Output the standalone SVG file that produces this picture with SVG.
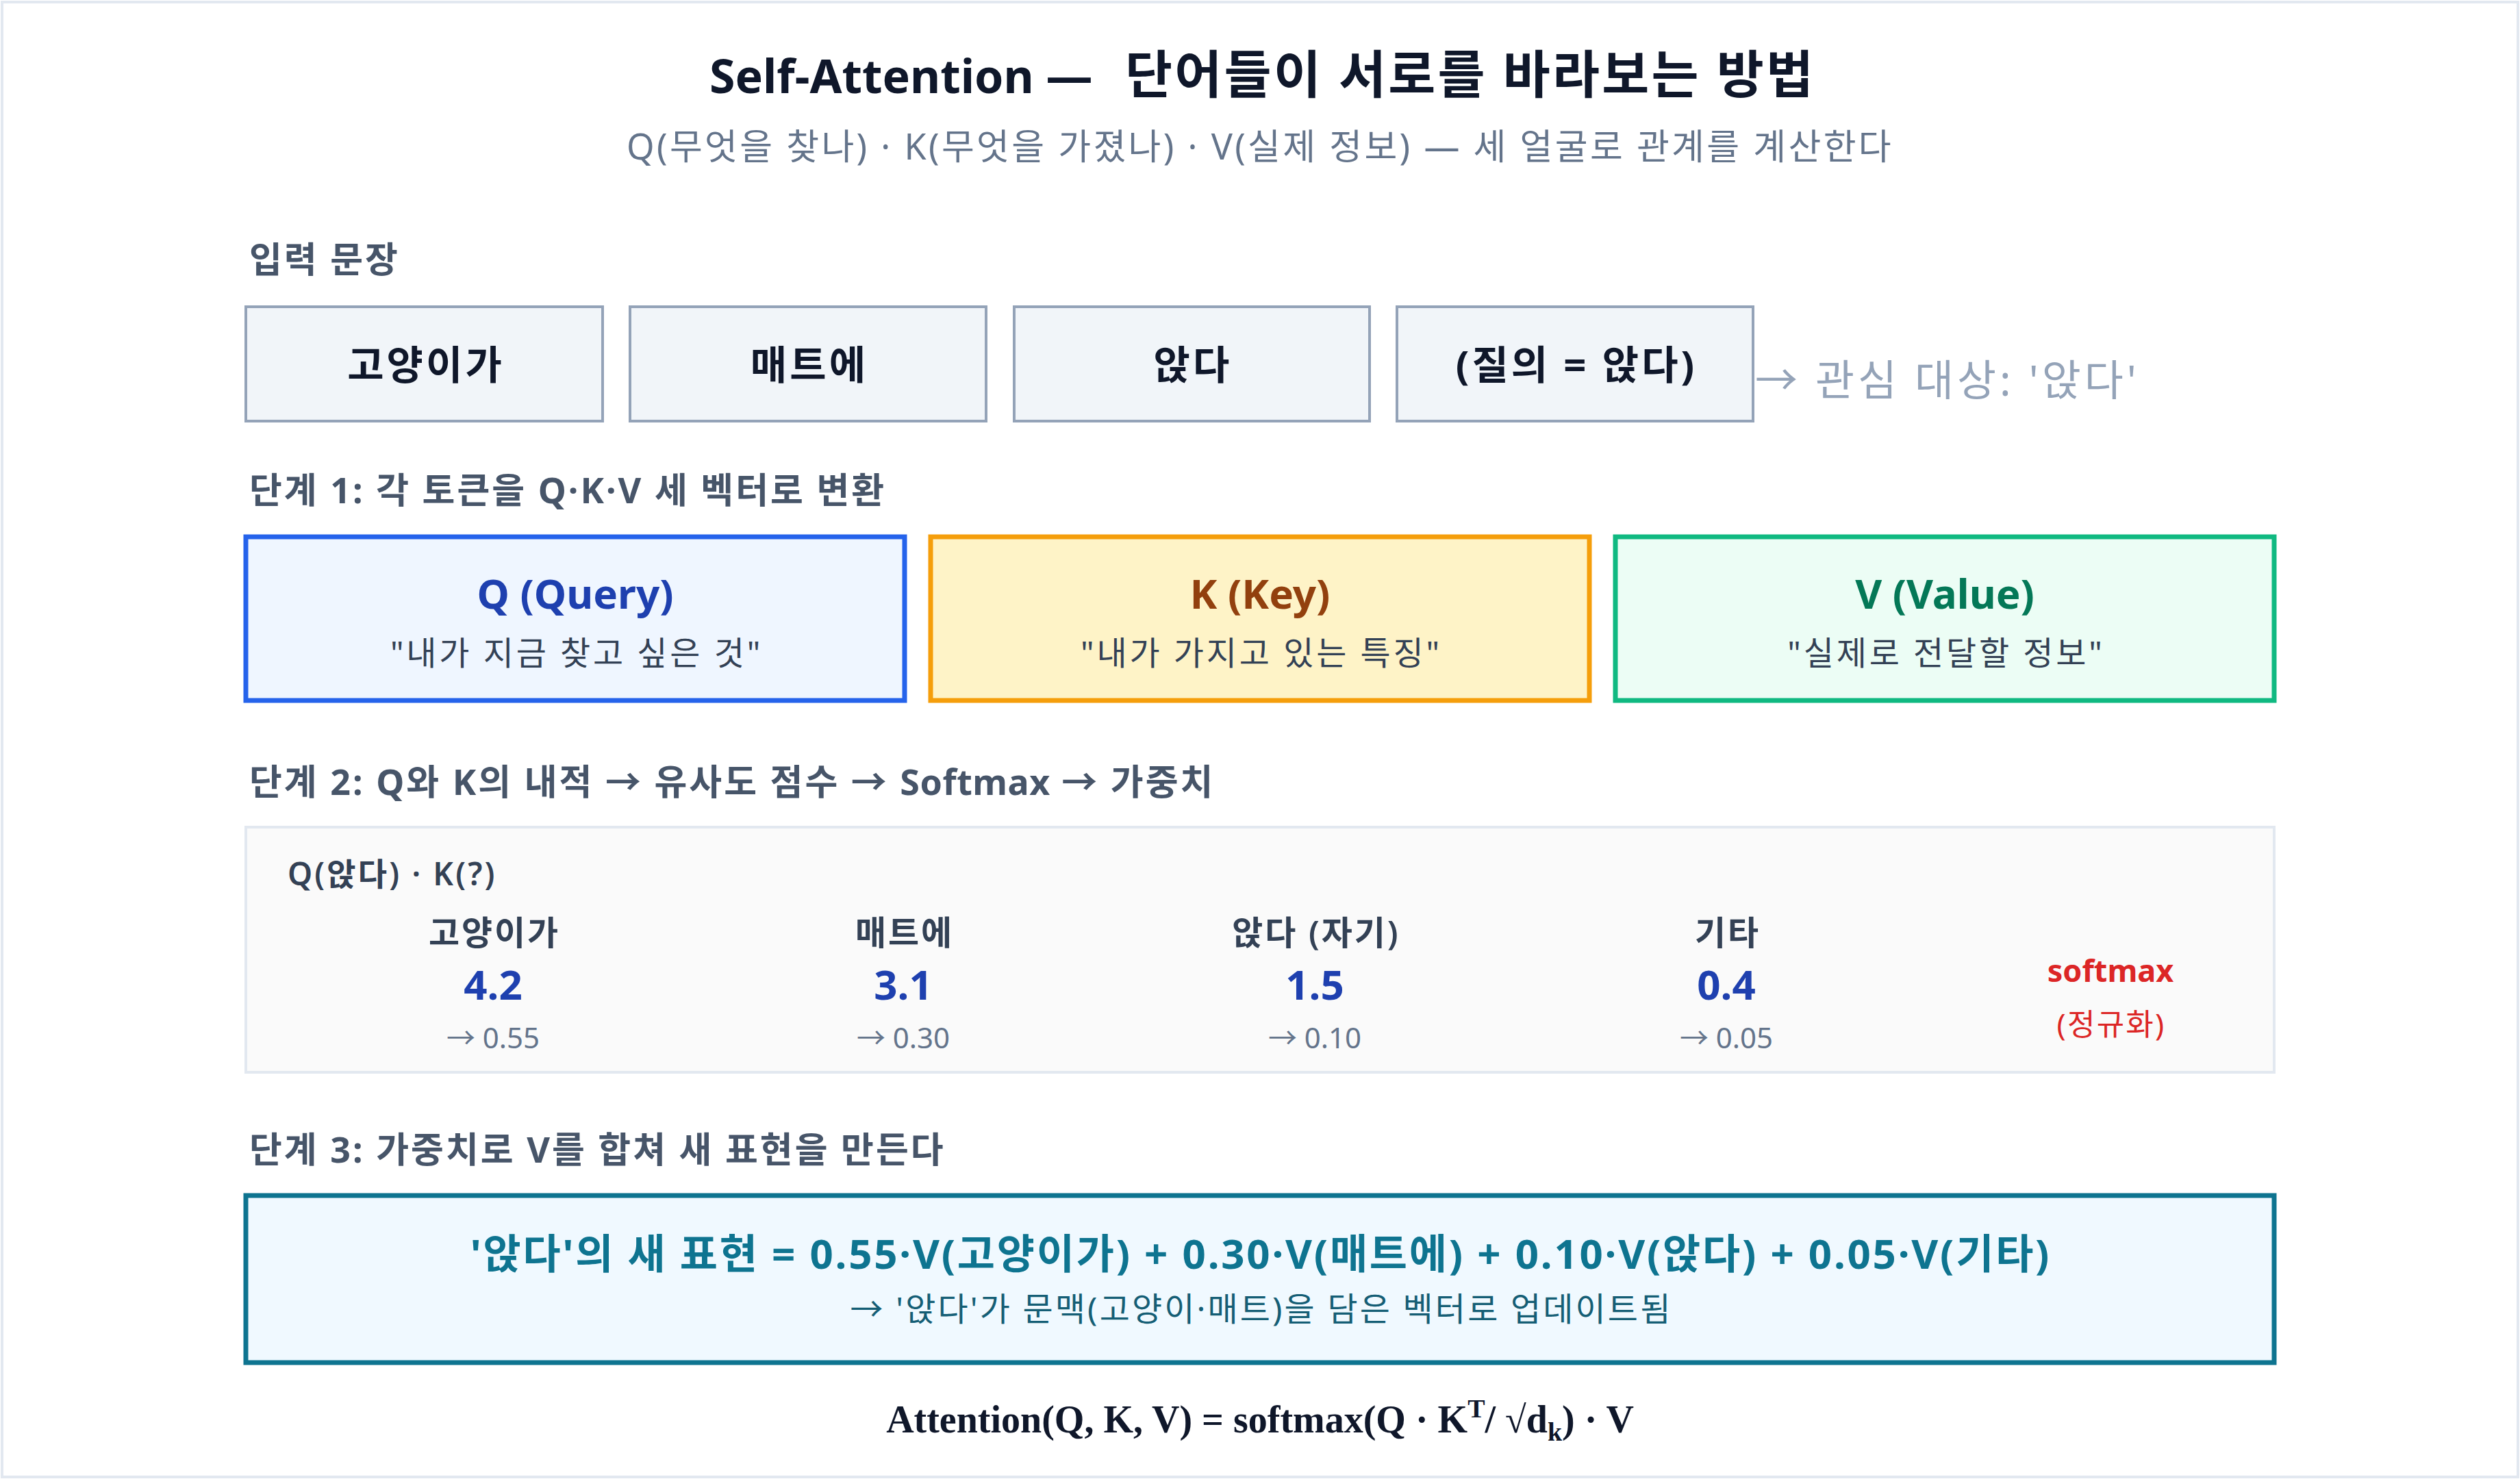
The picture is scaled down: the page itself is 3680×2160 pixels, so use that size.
<svg xmlns="http://www.w3.org/2000/svg" width="3680" height="2160" viewBox="0 0 3680 2160">
<style>
text{font-family:"Noto Sans","Noto Sans CJK KR",sans-serif}
.title{font-weight:700;fill:#0f172a}
.sub{font-size:52px;fill:#64748b;letter-spacing:0.064em}
.h{font-size:52px;font-weight:700;fill:#475569;letter-spacing:0.058em}
.tok rect{fill:#f1f5f9;stroke:#94a3b8;stroke-width:4}
.tok text{font-size:58px;font-weight:700;fill:#0f172a;text-anchor:middle;letter-spacing:0.07em}
.vt{font-size:60px;font-weight:700;text-anchor:middle}
.vd{font-size:48px;fill:#334155;text-anchor:middle;letter-spacing:0.08em}
.lbl{font-size:49px;font-weight:600;fill:#334155;text-anchor:middle;letter-spacing:0.06em}
.val{font-size:60px;font-weight:700;fill:#1e40af;text-anchor:middle}
.pr{font-size:42px;fill:#64748b;text-anchor:middle}
.formula{font-family:"Liberation Serif","Times New Roman",serif;font-size:56px;font-weight:700;fill:#0f172a;text-anchor:middle}
</style>
<rect x="0" y="0" width="3680" height="2160" fill="#ffffff"/>
<rect x="3" y="3" width="3674" height="2154" fill="none" stroke="#e2e8f0" stroke-width="4"/>

<g id="header">
<text class="title" x="1036" y="136"><tspan font-size="68">Self-Attention —</tspan><tspan x="1643" font-size="75" letter-spacing="0.044em">단어들이 서로를 바라보는 방법</tspan></text>
<text class="sub" x="1840" y="233" text-anchor="middle">Q(무엇을 찾나) · K(무엇을 가졌나) · V(실제 정보) — 세 얼굴로 관계를 계산한다</text>
</g>

<g id="input-label"><text class="h" x="364" y="398">입력 문장</text></g>

<g id="tok1" class="tok"><rect x="359" y="448" width="521" height="167"/><text x="622" y="554">고양이가</text></g>
<g id="tok2" class="tok"><rect x="920" y="448" width="520" height="167"/><text x="1182" y="554">매트에</text></g>
<g id="tok3" class="tok"><rect x="1481" y="448" width="519" height="167"/><text x="1742" y="554">앉다</text></g>
<g id="tok4" class="tok"><rect x="2040" y="448" width="520" height="167"/><text x="2302" y="554">(질의 = 앉다)</text></g>
<g id="focus-note"><text x="2563" y="578" font-size="62" fill="#94a3b8" letter-spacing="0.08em">→ 관심 대상: '앉다'</text></g>

<g id="step1-label"><text class="h" x="364" y="735">단계 1: 각 토큰을 Q·K·V 세 벡터로 변환</text></g>

<g id="q-box"><rect x="359" y="784" width="962" height="239" fill="#eff6ff" stroke="#2563eb" stroke-width="7"/>
<text class="vt" x="840" y="889" fill="#1e40af">Q (Query)</text>
<text class="vd" x="842" y="971">"내가 지금 찾고 싶은 것"</text></g>
<g id="k-box"><rect x="1359" y="784" width="962" height="239" fill="#fef3c7" stroke="#f59e0b" stroke-width="7"/>
<text class="vt" x="1840" y="889" fill="#92400e">K (Key)</text>
<text class="vd" x="1842" y="971">"내가 가지고 있는 특징"</text></g>
<g id="v-box"><rect x="2359" y="784" width="962" height="239" fill="#ecfdf5" stroke="#10b981" stroke-width="7"/>
<text class="vt" x="2840" y="889" fill="#047857">V (Value)</text>
<text class="vd" x="2842" y="971">"실제로 전달할 정보"</text></g>

<g id="step2-label"><text class="h" x="364" y="1161">단계 2: Q와 K의 내적 → 유사도 점수 → <tspan letter-spacing="0.01em">Softmax</tspan> → 가중치</text></g>

<g id="score-panel">
<rect x="359" y="1208" width="2962" height="358" fill="#fafafa" stroke="#e2e8f0" stroke-width="4"/>
<text x="420" y="1293" font-size="46" font-weight="600" fill="#334155" letter-spacing="0.068em">Q(앉다) · K(?)</text>
</g>
<g id="score-1"><text class="lbl" x="722" y="1380">고양이가</text><text class="val" x="720" y="1460">4.2</text><text class="pr" x="720" y="1531">→ 0.55</text></g>
<g id="score-2"><text class="lbl" x="1321" y="1380">매트에</text><text class="val" x="1319" y="1460">3.1</text><text class="pr" x="1319" y="1531">→ 0.30</text></g>
<g id="score-3"><text class="lbl" x="1922" y="1380">앉다 (자기)</text><text class="val" x="1920" y="1460">1.5</text><text class="pr" x="1920" y="1531">→ 0.10</text></g>
<g id="score-4"><text class="lbl" x="2523" y="1380">기타</text><text class="val" x="2521" y="1460">0.4</text><text class="pr" x="2521" y="1531">→ 0.05</text></g>
<g id="softmax"><text x="3082" y="1434" font-size="45" font-weight="700" fill="#dc2626" text-anchor="middle">softmax</text>
<text x="3083" y="1512" font-size="44" fill="#dc2626" text-anchor="middle" letter-spacing="0.05em">(정규화)</text></g>

<g id="step3-label"><text class="h" x="364" y="1698" letter-spacing="0.075em">단계 3: 가중치로 V를 합쳐 새 표현을 만든다</text></g>

<g id="result-box"><rect x="359" y="1746" width="2962" height="244" fill="#f0f9ff" stroke="#0e7490" stroke-width="7"/>
<text x="1841" y="1853" font-size="60" font-weight="700" fill="#0e7490" text-anchor="middle" letter-spacing="0.046em">'앉다'의 새 표현 = 0.55·V(고양이가) + 0.30·V(매트에) + 0.10·V(앉다) + 0.05·V(기타)</text>
<text x="1842" y="1929" font-size="48" fill="#155e75" text-anchor="middle" letter-spacing="0.065em">→ '앉다'가 문맥(고양이·매트)을 담은 벡터로 업데이트됨</text></g>

<g id="formula"><text class="formula" x="1840" y="2092">Attention(Q, K, V) = softmax(Q · K<tspan font-size="38" dy="-22">T</tspan><tspan dy="22">/ √d</tspan><tspan font-size="38" dy="12">k</tspan><tspan dy="-12">) · V</tspan></text></g>

<g id="connectors"/>
</svg>
